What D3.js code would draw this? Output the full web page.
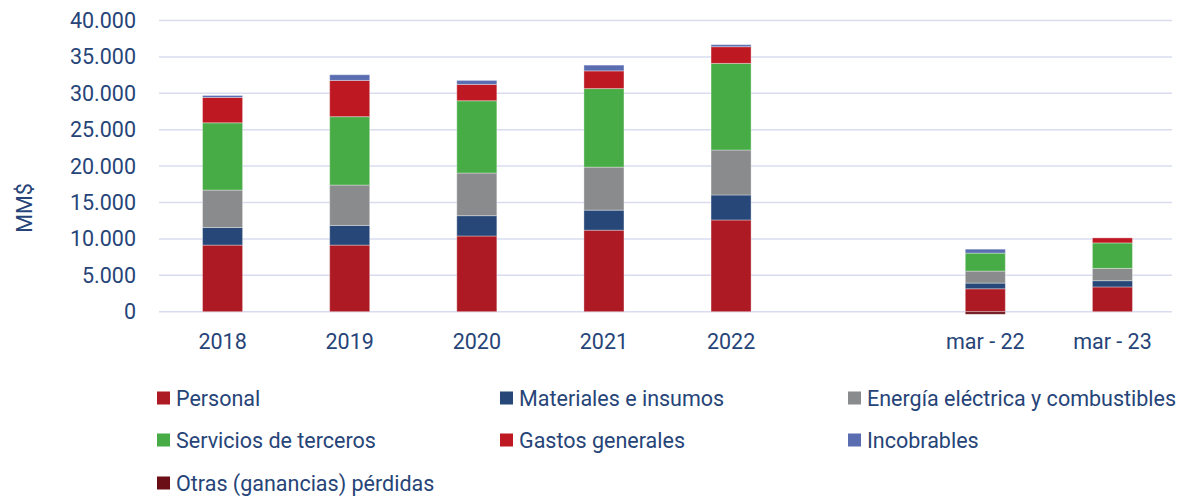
<!DOCTYPE html>
<html>
<head>
<meta charset="utf-8">
<script src="https://cdn.jsdelivr.net/npm/d3@7"></script>
<style>
  body { margin:0; background:#fff; }
  text { font-family: Roboto, "Open Sans", sans-serif; fill:#264478; }
</style>
</head>
<body>
<div id="main"></div>
<script>
// categorias del eje x (una vacia entre 2022 y mar - 22)
var categorias = ["2018","2019","2020","2021","2022"," ","mar - 22","mar - 23"];

// valores en MM$
var personal    = [9150, 9150, 10400, 11200, 12600, 0, 3150, 3400];
var materiales  = [2420, 2700, 2790, 2750, 3430, 0, 780, 860];
var energia     = [5140, 5550, 5860, 5910, 6180, 0, 1650, 1690];
var servicios   = [9240, 9390, 9930, 10790, 11900, 0, 2470, 3500];
var gastos      = [3480, 4980, 2240, 2430, 2290, 0, 0, 690];
var incobrables = [270, 780, 550, 790, 280, 0, 540, 0];
var otras       = [0, 0, 0, 0, 0, 0, -350, 0];

var series = ["Personal","Materiales e insumos","Energía eléctrica y combustibles",
              "Servicios de terceros","Gastos generales","Incobrables","Otras (ganancias) pérdidas"];
var colores = ["#AD1A24","#264778","#8A8B8D","#48AC46","#BE1823","#5A6DB0","#6B0E16"];
var yTicks = [0,5000,10000,15000,20000,25000,30000,35000,40000];

var valores = [personal, materiales, energia, servicios, gastos, incobrables, otras];

var width = 1178, height = 498;
var svg = d3.select("#main").append("svg")
    .attr("width", width).attr("height", height);

var x = d3.scaleBand()
    .domain(categorias)
    .range([159, 1176])
    .paddingInner(0.685)
    .paddingOuter(0.3425);

var y = d3.scaleLinear()
    .domain([0, 40000])
    .range([311.7, 20.5]);

var fmt = d3.formatLocale({decimal:",", thousands:".", grouping:[3], currency:["$",""]}).format(",d");

// lineas de grilla
svg.append("g").selectAll("line")
    .data(yTicks).enter().append("line")
    .attr("x1", 159).attr("x2", 1172)
    .attr("y1", function(d){ return y(d); })
    .attr("y2", function(d){ return y(d); })
    .style("stroke", "#D9DCEF")
    .style("stroke-width", 1.5);

// etiquetas eje y
svg.append("g").selectAll("text")
    .data(yTicks).enter().append("text")
    .attr("x", 136)
    .attr("y", function(d){ return y(d); })
    .attr("dy", "0.35em")
    .attr("text-anchor", "end")
    .style("font-size", "21.5px")
    .text(function(d){ return fmt(d); });

svg.append("text")
    .attr("transform", "translate(32,208) rotate(-90)")
    .attr("text-anchor", "middle")
    .style("font-size", "21.5px")
    .text("MM$");

// tabla para el stack
var tabla = categorias.map(function(c, i){
    var o = {cat: c};
    series.forEach(function(s, j){ o[s] = valores[j][i]; });
    return o;
});

var stack = d3.stack().keys(series).offset(d3.stackOffsetDiverging);
var capas = stack(tabla);

svg.append("g").selectAll("g")
    .data(capas).enter().append("g")
    .style("fill", function(d, i){ return colores[i]; })
    .selectAll("rect")
    .data(function(d){ return d.filter(function(p){ return p[1] !== p[0]; }); })
    .enter().append("rect")
    .attr("x", function(d){ return x(d.data.cat); })
    .attr("width", x.bandwidth())
    .attr("y", function(d){ return y(Math.max(d[0], d[1])); })
    .attr("height", function(d){ return Math.abs(y(d[0]) - y(d[1])); })
    .style("stroke", "#fff")
    .style("stroke-opacity", 0.35)
    .style("stroke-width", 1);

// etiquetas eje x
svg.append("g").selectAll("text")
    .data(categorias).enter().append("text")
    .attr("x", function(d){ return x(d) + x.bandwidth()/2; })
    .attr("y", 341)
    .attr("dy", "0.35em")
    .attr("text-anchor", "middle")
    .style("font-size", "21.5px")
    .text(function(d){ return d; });

// leyenda
var colX = [157, 500, 848], filaY = [398, 440, 483];
var ley = svg.append("g").selectAll("g")
    .data(series).enter().append("g")
    .attr("transform", function(d, i){
        return "translate(" + colX[i % 3] + "," + filaY[Math.floor(i / 3)] + ")";
    });
ley.append("rect")
    .attr("x", 0).attr("y", -6.5)
    .attr("width", 13).attr("height", 13)
    .style("fill", function(d, i){ return colores[i]; });
ley.append("text")
    .attr("x", 19).attr("dy", "0.35em")
    .style("font-size", "21.5px")
    .text(function(d){ return d; });
</script>
</body>
</html>
